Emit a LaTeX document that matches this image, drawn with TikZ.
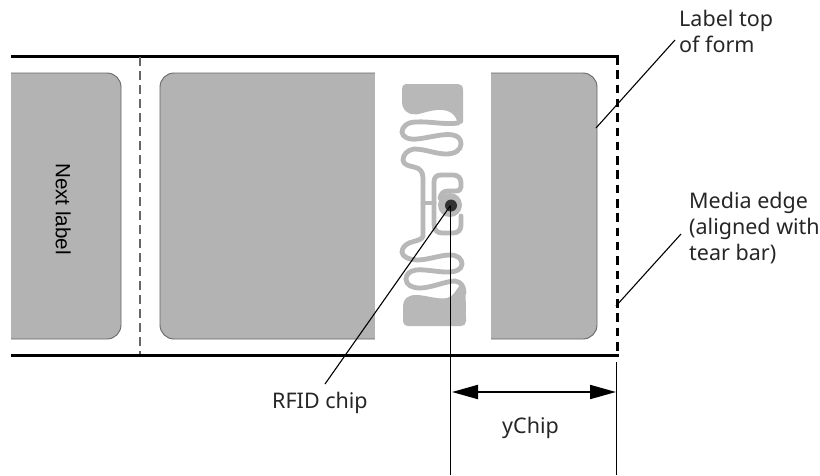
\documentclass[tikz,border=0pt]{standalone}
\usepackage{fontspec}
\setmainfont{Noto Sans}
\newfontfamily\arialish{Liberation Sans}
\usetikzlibrary{arrows.meta}
\definecolor{lblgray}{HTML}{B3B3B3}
\definecolor{antgray}{HTML}{B8B8B8}
\definecolor{edgegray}{HTML}{666666}
\tikzset{
  lbl/.style={fill=lblgray,draw=edgegray,line width=0.9pt,rounded corners=14pt},
  ant/.style={draw=antgray,line width=4.8pt,line cap=round,line join=round},
  pad/.style={fill=antgray,draw=none},
  txt/.style={font=\fontsize{21.5pt}{25.8pt}\selectfont,inner sep=0pt,text=black!85},
  thin/.style={draw=black,line width=1pt},
  lead/.style={draw=black,line width=1.1pt},
}
\begin{document}
\begin{tikzpicture}[x=1pt,y=-1pt]
\useasboundingbox (0,0) rectangle (820,475);
% labels
\path[lbl] (11,73) -- (121,73) -- (121,339) -- (11,339);
\path[lbl] (160,73) rectangle (597,339);
\fill[white] (375,72) rectangle (491,340);
% antenna
\path[pad] (402,90) .. controls (402,85) and (404,84) .. (408,84) -- (458,84) .. controls (461,84) and (463,86) .. (463,90) -- (463,122) .. controls (462,125) and (458,124) .. (457,121) .. controls (455,113) and (447,109) .. (437,110) .. controls (425,111) and (418,116) .. (411,114) .. controls (405,112) and (402,108) .. (402,102) -- cycle;
\path[ant] (458,123) .. controls (445,125) and (428,121) .. (416,122) .. controls (407,122) and (402,127) .. (402,132) .. controls (402,137) and (409,140) .. (417,139) .. controls (428,138) and (444,133) .. (453,135) .. controls (459,136) and (461,140) .. (461,144) .. controls (461,150) and (455,154) .. (446,154) .. controls (436,154) and (425,149) .. (414,149) .. controls (407,150) and (403,155) .. (403,160) .. controls (403,165) and (410,166) .. (414,167) .. controls (420,168) and (423,172) .. (423,178) -- (423,236) .. controls (423,240) and (414,241) .. (409,243) .. controls (405,245) and (402,248) .. (402,252) .. controls (402,257) and (410,260) .. (417,260) .. controls (428,260) and (440,255) .. (450,255) .. controls (458,255) and (462,259) .. (462,264) .. controls (462,270) and (455,272) .. (447,272) .. controls (436,272) and (425,269) .. (416,270) .. controls (409,271) and (406,275) .. (406,279) .. controls (406,285) and (412,288) .. (420,288) .. controls (431,288) and (446,281) .. (455,281) .. controls (461,282) and (464,286) .. (464,293);
\path[ant] (423,203) -- (434,203);
\path[ant] (434,203) -- (434,182) .. controls (434,177) and (437,175) .. (441,175) -- (453,175) .. controls (458,175) and (461,178) .. (461,183) -- (461,187) .. controls (461,190) and (459,191) .. (455,191) -- (448,191) .. controls (443,191) and (441,194) .. (440,198);
\path[ant] (434,203) -- (434,224) .. controls (434,230) and (437,233) .. (442,233) -- (453,233) .. controls (458,233) and (461,230) .. (461,225) -- (461,216);
\path[pad] (403,306) .. controls (403,299) and (408,295) .. (416,295) .. controls (426,295) and (438,300) .. (447,298) .. controls (453,297) and (456,290) .. (460,285) -- (465,288) .. controls (466,300) and (466,312) .. (466,321) .. controls (466,324) and (464,326) .. (461,326) -- (409,326) .. controls (405,326) and (403,324) .. (403,320) -- cycle;
% chip
\fill[antgray] (450,205) circle (12);
\fill[black!80] (451,205.5) circle (6);
% media
\node[inner sep=0pt,minimum size=0pt] (chip) at (450.5,205.5) {};
\draw[black,line width=3pt] (11,56) -- (618.5,56);
\draw[black,line width=3pt] (11,355) -- (618.5,355);
\draw[black,line width=3pt,dash pattern=on 8.5pt off 5.8pt] (617,56) -- (617,355);
\draw[edgegray,line width=1.7pt,dash pattern=on 9pt off 5pt] (140,57) -- (140,354);
% text
\node[font=\arialish\fontsize{20.6pt}{24pt}\selectfont,text=black,inner sep=0pt,rotate=-90,anchor=base] (next) at (56,209) {Next label};
\node[txt,align=left,anchor=base west] (top) at (679,52) {Label top\\of form};
\node[txt,align=left,anchor=base west] (edge) at (689,260.5) {Media edge\\(aligned with\\tear bar)};
\node[txt,anchor=base west] (rfid) at (272,408) {RFID chip};
\node[txt,anchor=base west] (ychip) at (502,433) {yChip};
% leaders
\coordinate (topA) at (675,40);
\coordinate (topB) at (596,128);
\coordinate (edgeA) at (681,234);
\coordinate (edgeB) at (616,306);
\coordinate (rfidA) at (325,384);
\draw[lead] (topA) -- (topB);
\draw[lead] (edgeA) -- (edgeB);
\draw[lead] (rfidA) -- (chip.center);
\coordinate (yA) at (450.5,475);
\coordinate (yB) at (616.5,475);
\coordinate (yC) at (616.5,362);
\coordinate (yL) at (452,392);
\coordinate (yR) at (616,392);
\draw[thin] (chip.center) -- (yA);
\draw[thin] (yC) -- (yB);
\draw[black,line width=2pt,{Triangle[length=26pt,width=14pt]}-{Triangle[length=26pt,width=14pt]}] (yL) -- (yR);
\end{tikzpicture}
\end{document}
